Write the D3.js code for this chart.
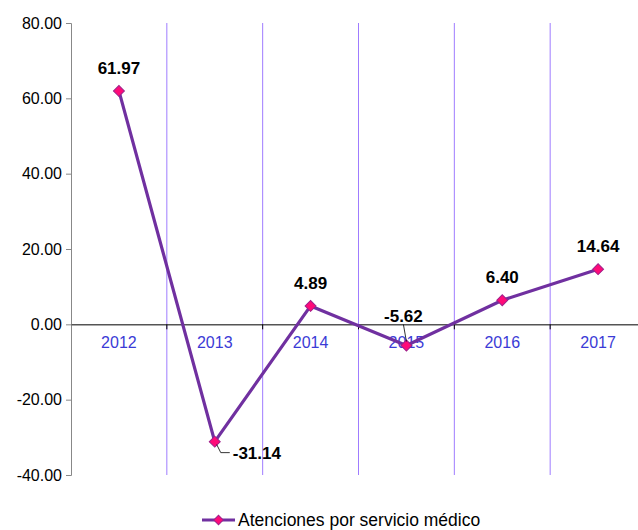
<!DOCTYPE html>
<html><head><meta charset="utf-8">
<script src="https://cdn.jsdelivr.net/npm/d3@7"></script>
<style>body{margin:0;background:#fff}svg{display:block;font-family:Arial,"Liberation Sans",sans-serif}</style>
</head><body><svg id="c" width="638" height="530"></svg>
<script>
const categories = ["2012","2013","2014","2015","2016","2017"];
const values = [61.97,-31.14,4.89,-5.62,6.40,14.64];
const yTicks = [80,60,40,20,0,-20,-40];
const seriesName = "Atenciones por servicio médico";

const svg = d3.select("#c");
const mLeft = 71, mRight = 646, mTop = 23, mBottom = 475;
const x = d3.scaleBand().domain(categories).range([mLeft, mRight]);
const y = d3.scaleLinear().domain([-40, 80]).range([mBottom, mTop]);
const fmt = v => d3.format(".2f")(v).replace("\u2212", "-");

// vertical gridlines at category boundaries
svg.append("g").selectAll("line").data(categories.slice(1)).join("line")
  .attr("x1", d => x(d)).attr("x2", d => x(d))
  .attr("y1", mTop).attr("y2", mBottom)
  .attr("stroke", "#9f7cff").attr("stroke-width", 1);

// y axis
const ya = svg.append("g").attr("transform", `translate(${mLeft},0)`)
  .call(d3.axisLeft(y).tickValues(yTicks).tickFormat(fmt).tickSize(5).tickPadding(4));
ya.select(".domain").attr("stroke", "#888");
ya.selectAll(".tick line").attr("stroke", "#888");
ya.selectAll(".tick text").attr("font-size", 16).attr("fill", "#000").attr("font-family", "Arial, 'Liberation Sans', sans-serif");

// x axis at zero
const xa = svg.append("g").attr("transform", `translate(0,${y(0)})`)
  .call(d3.axisBottom(x).tickSize(0).tickPadding(12));
xa.select(".domain").attr("stroke", "#555").attr("stroke-width", 1.5);
xa.selectAll(".tick text").attr("font-size", 16).attr("fill", "#3b3bd6").attr("font-family", "Arial, 'Liberation Sans', sans-serif");
svg.append("g").selectAll("line").data(categories.slice(1)).join("line")
  .attr("x1", d => x(d)).attr("x2", d => x(d))
  .attr("y1", y(0)).attr("y2", y(0) + 5)
  .attr("stroke", "#000").attr("stroke-width", 1);

const cx = d => x(d) + x.bandwidth() / 2;
const pts = categories.map((c, i) => ({c, v: values[i]}));

svg.append("path").datum(pts)
  .attr("fill", "none").attr("stroke", "#7030a0").attr("stroke-width", 3.2)
  .attr("d", d3.line().x(d => cx(d.c)).y(d => y(d.v)));

svg.append("g").selectAll("path").data(pts).join("path")
  .attr("d", d3.symbol().type(d3.symbolSquare).size(60))
  .attr("transform", d => `translate(${cx(d.c)},${y(d.v)}) rotate(45)`)
  .attr("fill", "#ff0a78").attr("stroke", "#a0208a").attr("stroke-width", 1);

// data labels
const lab = svg.append("g").attr("font-size", 17).attr("font-weight", "bold").attr("fill", "#000");
pts.forEach((d) => {
  const px = cx(d.c), py = y(d.v);
  const t = fmt(d.v);
  if (d.c === "2013") {
    lab.append("path").attr("d", `M${px+2},${py+3} L${px+6},${py+11} L${px+15},${py+11}`)
      .attr("fill", "none").attr("stroke", "#000").attr("stroke-width", 0.8);
    lab.append("text").attr("x", px + 18).attr("y", py + 17).text(t);
  } else if (d.c === "2015") {
    lab.append("line").attr("x1", px - 3).attr("y1", py - 21).attr("x2", px).attr("y2", py - 4)
      .attr("stroke", "#000").attr("stroke-width", 0.8);
    lab.append("text").attr("x", px - 3).attr("y", py - 24).attr("text-anchor", "middle").text(t);
  } else {
    lab.append("text").attr("x", px).attr("y", py - 17).attr("text-anchor", "middle").text(t);
  }
});

// legend
const lg = svg.append("g").attr("transform", "translate(202,520)");
lg.append("line").attr("x1", 0).attr("x2", 33).attr("y1", 0).attr("y2", 0)
  .attr("stroke", "#7030a0").attr("stroke-width", 3);
lg.append("path").attr("d", d3.symbol().type(d3.symbolSquare).size(45))
  .attr("transform", "translate(16.5,0) rotate(45)").attr("fill", "#ff0a78").attr("stroke", "#a0208a");
lg.append("text").attr("x", 36).attr("y", 6).attr("font-size", 17.5).attr("fill", "#000").text(seriesName);
</script></body></html>
